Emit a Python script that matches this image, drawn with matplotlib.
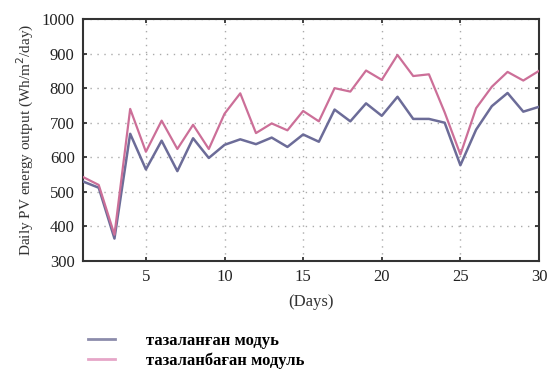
import matplotlib
matplotlib.use("Agg")
import matplotlib.pyplot as plt
from matplotlib.lines import Line2D

days = list(range(1, 31))
cleaned = [530, 512, 365, 668, 565, 648, 560, 655, 598, 636,
           652, 638, 657, 630, 666, 645, 738, 704, 756, 720,
           775, 711, 711, 700, 577, 680, 748, 786, 732, 746]
uncleaned = [543, 520, 376, 740, 616, 706, 624, 694, 624, 726,
             785, 670, 698, 678, 734, 704, 800, 790, 851, 824,
             896, 835, 840, 730, 608, 742, 804, 847, 822, 850]
legend_labels = ["тазаланған модуь", "тазаланбаған модуль"]
xticks = [5, 10, 15, 20, 25, 30]
yticks = [300, 400, 500, 600, 700, 800, 900, 1000]

c_clean = "#6c6c98"
c_unclean = "#cc6f98"

plt.rcParams['font.family'] = ['Liberation Serif', 'DejaVu Serif']

fig = plt.figure(figsize=(5.49, 3.74), dpi=100)
ax = fig.add_axes([0.1512, 0.3021, 0.8306, 0.6471])

ax.plot(days, cleaned, color=c_clean, lw=1.8, zorder=3)
ax.plot(days, uncleaned, color=c_unclean, lw=1.6, zorder=3)

ax.set_xlim(1, 30)
ax.set_ylim(300, 1000)
ax.set_xticks(xticks)
ax.set_yticks(yticks)
ax.tick_params(direction='in', top=True, right=True, length=3, width=1.2,
               labelsize=12, colors='#222222', pad=6)
ax.grid(True, linestyle=(0, (1, 4)), color='#aaaaaa', lw=1.0)
for s in ax.spines.values():
    s.set_linewidth(1.5)
    s.set_color('#333333')

ax.set_ylabel("Daily PV energy output (Wh/m$^2$/day)", fontsize=11, color='#333333', labelpad=4)
ax.set_xlabel("(Days)", fontsize=12, color='#333333', labelpad=6)

handles = [Line2D([0], [0], color="#8c8cab", lw=2),
           Line2D([0], [0], color="#e6a6c8", lw=2)]
fig.legend(handles, legend_labels, loc='upper left', bbox_to_anchor=(0.145, 0.133),
           frameon=False, prop={'weight': 'bold', 'size': 12},
           handlelength=1.6, handletextpad=1.9, labelspacing=0.25, borderpad=0)

fig.savefig("out.png", dpi=100)
